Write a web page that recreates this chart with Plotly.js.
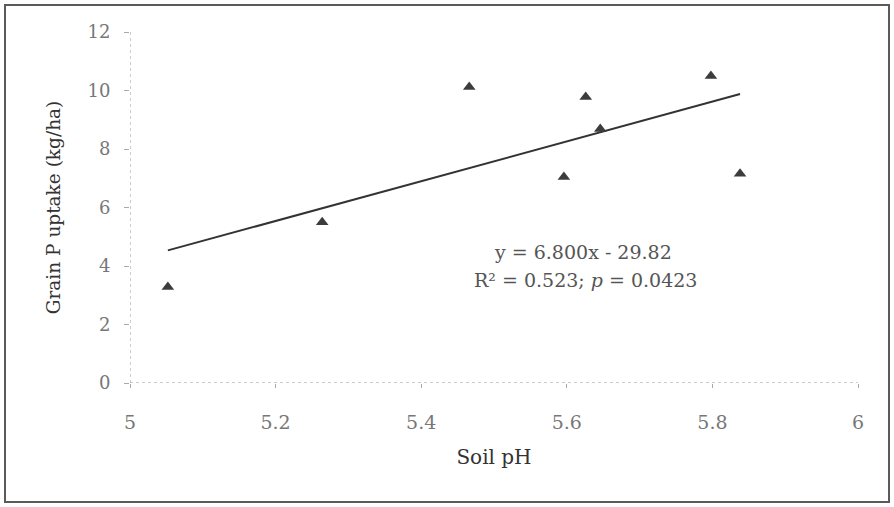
<!DOCTYPE html>
<html>
<head>
<meta charset="utf-8">
<script src="https://cdn.plot.ly/plotly-3.0.1.min.js"></script>
<style>
  html, body { margin: 0; padding: 0; background: #ffffff; }
  #wrap { position: relative; width: 894px; height: 507px; }
  #chart { width: 894px; height: 507px; }
  #frame { position: absolute; left: 4px; top: 4px; width: 882px; height: 495px;
           border: 2px solid #5a5a5a; pointer-events: none; }
</style>
</head>
<body>
<div id="wrap">
  <div id="chart"></div>
  <div id="frame"></div>
</div>
<script>
// Data
const soilPH = [5.052, 5.264, 5.466, 5.596, 5.626, 5.646, 5.798, 5.838];
const grainPUptake = [3.28, 5.50, 10.12, 7.04, 9.78, 8.68, 10.50, 7.15];

// Fitted trend line as reported on the chart: y = 6.800x - 29.82
const trendSlope = 6.800;
const trendIntercept = -29.82;
const trendX = [Math.min(...soilPH), Math.max(...soilPH)];
const trendY = trendX.map(v => trendSlope * v + trendIntercept);

const xTickVals = [5, 5.2, 5.4, 5.6, 5.8, 6];
const xTickText = ['5', '5.2', '5.4', '5.6', '5.8', '6'];
const yTickVals = [0, 2, 4, 6, 8, 10, 12];
const yTickText = ['0', '2', '4', '6', '8', '10', '12'];

const fontFamily = '"DejaVu Serif", "Liberation Serif", serif';

const traces = [
  {
    x: trendX, y: trendY, mode: 'lines', type: 'scatter',
    line: { color: '#333333', width: 2 }, hoverinfo: 'skip', showlegend: false
  },
  {
    x: soilPH, y: grainPUptake, mode: 'markers', type: 'scatter',
    marker: { symbol: 'triangle-up', size: 11, color: '#3c3c3c' },
    showlegend: false
  }
];

const layout = {
  width: 894, height: 507,
  margin: { l: 130, r: 36, t: 32, b: 124 },
  paper_bgcolor: '#ffffff', plot_bgcolor: '#ffffff',
  showlegend: false,
  font: { family: fontFamily, color: '#555555', size: 18 },
  xaxis: {
    range: [5, 6], tickvals: xTickVals, ticktext: xTickText,
    showgrid: false, zeroline: false, showline: false,
    ticks: 'outside', ticklen: 4, tickcolor: '#aaaaaa',
    ticklabelstandoff: 18,
    tickfont: { family: fontFamily, size: 19, color: '#777777' },
    title: { text: 'Soil pH', font: { family: fontFamily, size: 20, color: '#333333' }, standoff: 18 }
  },
  yaxis: {
    range: [0, 12], tickvals: yTickVals, ticktext: yTickText,
    showgrid: false, zeroline: false, showline: false,
    ticks: 'outside', ticklen: 5, tickcolor: '#aaaaaa',
    ticklabelstandoff: 10,
    tickfont: { family: fontFamily, size: 18, color: '#777777' },
    title: { text: 'Grain P uptake (kg/ha)', font: { family: fontFamily, size: 18.5, color: '#333333' }, standoff: 22 }
  },
  shapes: [
    { type: 'line', xref: 'paper', yref: 'y', x0: 0, x1: 1, y0: 0, y1: 0,
      line: { color: '#9a9a9a', width: 1, dash: 'dot' } },
    { type: 'line', xref: 'x', yref: 'paper', x0: 5, x1: 5, y0: 0, y1: 1,
      line: { color: '#9a9a9a', width: 1, dash: 'dot' } }
  ],
  annotations: [
    { x: 5.622, y: 4.48, xref: 'x', yref: 'y', showarrow: false,
      text: 'y = 6.800x - 29.82', font: { family: fontFamily, size: 19, color: '#555555' } },
    { x: 5.626, y: 3.52, xref: 'x', yref: 'y', showarrow: false,
      text: 'R² = 0.523; <i>p</i> = 0.0423', font: { family: fontFamily, size: 19, color: '#555555' } }
  ]
};

Plotly.newPlot('chart', traces, layout, { displayModeBar: false, staticPlot: true });
</script>
</body>
</html>
